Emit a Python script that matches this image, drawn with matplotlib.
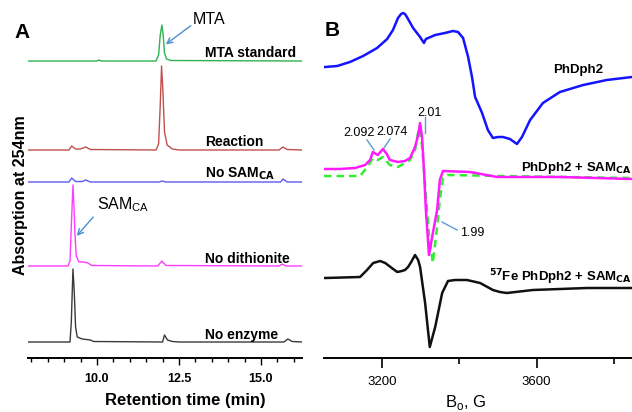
import matplotlib
matplotlib.use("Agg")
import matplotlib.pyplot as plt
from matplotlib.ticker import FixedLocator, MultipleLocator

plt.rcParams['font.family'] = ['Liberation Sans', 'DejaVu Sans']

W, H = 632, 412

# ---------------- Panel A data: HPLC traces (retention time, min ; signal, a.u.) ----------------
mta_std_t = [7.9, 9.1, 10.0, 10.06, 10.12, 11.8, 11.88, 11.93, 11.98, 12.02, 12.06, 12.12, 12.25, 16.25]
mta_std_y = [0, 0, 0, 1, 0, 0, 6, 26, 36, 26, 8, 2, 0.5, 0]

reaction_t = [7.9, 9.15, 9.23, 9.35, 9.5, 9.66, 9.8, 11.8, 11.88, 11.93, 11.97, 12.01, 12.06, 12.14, 12.3, 12.5,
              15.55, 15.67, 15.8, 16.25]
reaction_y = [0, 0, 4, 1, 1, 3, 0.5, 0, 6, 45, 84, 60, 18, 5, 1, 0, 0, 3, 0.5, 0]

nosam_t = [7.9, 9.15, 9.23, 9.35, 9.55, 9.66, 9.8, 11.9, 11.98, 12.1, 15.6, 15.67, 15.8, 16.25]
nosam_y = [0, 0, 4, 0.5, 0.5, 2, 0, 0, 1, 0, 0, 3, 0, 0]

nodith_t = [7.9, 9.12, 9.18, 9.22, 9.27, 9.3, 9.33, 9.37, 9.45, 9.6, 9.72, 9.85, 11.85, 11.98, 12.1,
            15.55, 15.65, 15.75, 16.25]
nodith_y = [0, 0, 5, 40, 81, 60, 33, 10, 4, 4, 3, 0.5, 0, 5, 0.5, 0, 2, 0, 0]

noenz_t = [7.9, 9.18, 9.22, 9.27, 9.31, 9.35, 9.4, 9.55, 9.8, 9.9, 12.0, 12.06, 12.15, 12.3, 12.5,
           15.7, 15.82, 15.95, 16.25]
noenz_y = [0, 0, 20, 73, 50, 15, 5, 3, 2, 0.5, 0, 7, 2, 0.5, 0, 0, 3, 0.5, 0]

hplc_names = ["MTA standard", "Reaction", "No SAM$_{\\mathbf{CA}}$", "No dithionite", "No enzyme"]
hplc_offsets = [297, 208, 176, 92, 16]
hplc_colors = ["#2db34f", "#c0504d", "#5a5af0", "#ff3cff", "#3a3a3a"]
hplc_t = [mta_std_t, reaction_t, nosam_t, nodith_t, noenz_t]
hplc_y = [mta_std_y, reaction_y, nosam_y, nodith_y, noenz_y]
hplc_label_y = [53, 142, 174, 259, 335]   # pixel rows of the bold labels

# ---------------- Panel B data: EPR spectra (field, G ; signal, a.u.) ----------------
phdph2_B = [3054, 3085, 3118, 3152, 3188, 3214, 3229, 3242, 3250, 3255, 3260, 3265, 3281, 3299, 3309, 3314,
            3338, 3363, 3384, 3397, 3410, 3423, 3433, 3441, 3459, 3474, 3487, 3500, 3513, 3531, 3549, 3562,
            3583, 3616, 3660, 3720, 3781, 3846]
phdph2_y = [0, 1, 5, 11, 19, 28, 37, 49, 53, 54, 53, 50, 39, 30, 24, 28, 32, 34, 36, 35, 29, 10, -10, -30,
            -46, -63, -71, -70, -70, -72, -77, -70, -53, -36, -25, -18, -13, -10]

sam_B = [3051, 3092, 3131, 3157, 3170, 3177, 3190, 3203, 3213, 3221, 3242, 3260, 3273, 3286, 3294, 3299,
         3304, 3309, 3314, 3322, 3332, 3343, 3350, 3358, 3428, 3498, 3660, 3846]
sam_y = [0, 0, 1, 4, 9, 17, 14, 20, 15, 9, 7, 8, 11, 22, 34, 46, 32, -1, -41, -86, -64, -41, -11, -2, -3,
         -8, -8, -10]

sim_B = [3051, 3144, 3165, 3177, 3190, 3203, 3221, 3242, 3273, 3286, 3296, 3304, 3312, 3322, 3332, 3343,
         3350, 3358, 3369, 3505, 3846]
sim_y = [0, 0, 10, 18, 16, 19, 11, 9, 16, 26, 48, 31, -9, -59, -87, -51, -24, -2, 1, 0, -2]

fe57_B = [3054, 3144, 3162, 3178, 3196, 3209, 3226, 3240, 3252, 3260, 3268, 3276, 3286, 3294, 3299, 3312,
          3324, 3338, 3356, 3371, 3389, 3420, 3454, 3487, 3505, 3523, 3590, 3730, 3846]
fe57_y = [0, 1, 8, 15, 17, 15, 10, 6, 7, 8, 11, 16, 23, 18, 11, -25, -69, -49, -15, -3, -2, -2, -5, -12,
          -14, -15, -12, -10, -10]

epr_offsets = {"phdph2": 291, "sam": 189, "sim": 182, "fe57": 80}

hplc_ticks_major = [10.0, 12.5, 15.0]
epr_ticks_major = [3200, 3600]
epr_ticks_minor = [3400, 3800]

fig = plt.figure(figsize=(W / 100, H / 100), dpi=100)


def fx(px):
    return px / W


def fy(py):
    return 1 - py / H


# ---------------- Panel A ----------------
axA = fig.add_axes([fx(28), fy(358), 274 / W, 350 / H])
axA.set_xlim(7.9, 16.25)
axA.set_ylim(0, 350)
for t, y, off, c in zip(hplc_t, hplc_y, hplc_offsets, hplc_colors):
    axA.plot(t, [v + off for v in y], color=c, lw=1.0)
for s in ["top", "right", "left"]:
    axA.spines[s].set_visible(False)
axA.spines["bottom"].set_linewidth(1.4)
axA.set_yticks([])
axA.xaxis.set_major_locator(FixedLocator(hplc_ticks_major))
axA.xaxis.set_minor_locator(MultipleLocator(0.5))
axA.tick_params(axis="x", which="major", length=5, width=1, pad=6)
axA.tick_params(axis="x", which="minor", length=3, width=1)
axA.set_xticklabels([f"{v:.1f}" for v in hplc_ticks_major], fontsize=9, fontweight="bold")

for name, py in zip(hplc_names, hplc_label_y):
    fig.text(fx(205), fy(py), name, fontsize=10, fontweight="bold", va="center", ha="left")

fig.text(fx(21), fy(195), "Absorption at 254nm", rotation=90, fontsize=11.5, fontweight="bold",
         va="center", ha="center")
fig.text(fx(185), fy(400), "Retention time (min)", fontsize=12, fontweight="bold", va="center", ha="center")
fig.text(fx(14), fy(32), "A", fontsize=15, fontweight="bold", va="center", ha="left")

arrow_c = "#4a8fd0"
axA.annotate("", xy=(12.03, 358 - 46), xytext=(fx(193), fy(24)), textcoords="figure fraction",
             arrowprops=dict(arrowstyle="->", color=arrow_c, lw=1.0))
fig.text(fx(193), fy(19), "MTA", fontsize=11.5, va="center", ha="left")
axA.annotate("", xy=(9.33, 358 - 238), xytext=(fx(95), fy(215)), textcoords="figure fraction",
             arrowprops=dict(arrowstyle="->", color=arrow_c, lw=1.0))
fig.text(fx(97), fy(205), "SAM$_{\\mathregular{CA}}$", fontsize=11.5, va="center", ha="left")

# ---------------- Panel B ----------------
axB = fig.add_axes([fx(324), fy(358), 308 / W, 350 / H])
axB.set_xlim(3051, 3846)
axB.set_ylim(0, 350)
axB.plot(phdph2_B, [v + epr_offsets["phdph2"] for v in phdph2_y], color="#1414ff", lw=1.8)
axB.plot(sim_B, [v + epr_offsets["sim"] for v in sim_y], color="#33ee33", lw=1.8, ls=(0, (3, 2)))
axB.plot(sam_B, [v + epr_offsets["sam"] for v in sam_y], color="#ff1aff", lw=1.8)
axB.plot(fe57_B, [v + epr_offsets["fe57"] for v in fe57_y], color="#111111", lw=1.8)
for s in ["top", "right", "left"]:
    axB.spines[s].set_visible(False)
axB.spines["bottom"].set_linewidth(1.4)
axB.set_yticks([])
axB.xaxis.set_major_locator(FixedLocator(epr_ticks_major))
axB.xaxis.set_minor_locator(FixedLocator(epr_ticks_minor))
axB.tick_params(axis="x", which="major", length=7, width=1.2, pad=6, labelsize=9.5)
axB.tick_params(axis="x", which="minor", length=4, width=1.2)
axB.set_xticklabels([str(v) for v in epr_ticks_major])

fig.text(fx(325), fy(30), "B", fontsize=15, fontweight="bold", va="center", ha="left")
fig.text(fx(603), fy(70), "PhDph2", fontsize=9.5, fontweight="bold", va="center", ha="right")
fig.text(fx(632), fy(168), "PhDph2 + SAM$_{\\mathbf{CA}}$", fontsize=9.5, fontweight="bold",
         va="center", ha="right")
fig.text(fx(632), fy(277), "$^{\\mathbf{57}}$Fe PhDph2 + SAM$_{\\mathbf{CA}}$", fontsize=9.5,
         fontweight="bold", va="center", ha="right")
fig.text(fx(466), fy(411.5), "B$_{\\mathregular{o}}$, G", fontsize=12, va="bottom", ha="center")

line_c = "#5b9bd5"
gval_fs = 9
fig.text(fx(343), fy(133), "2.092", fontsize=gval_fs, va="center", ha="left")
fig.text(fx(376), fy(132), "2.074", fontsize=gval_fs, va="center", ha="left")
fig.text(fx(417), fy(113), "2.01", fontsize=gval_fs, va="center", ha="left")
fig.text(fx(460), fy(233), "1.99", fontsize=gval_fs, va="center", ha="left")
for (x0, y0, x1, y1) in [(367, 140, 374, 150), (390, 139, 384, 148), (425, 117, 425, 133), (442, 222, 457, 230)]:
    fig.add_artist(plt.Line2D([fx(x0), fx(x1)], [fy(y0), fy(y1)], color=line_c, lw=1.0,
                              transform=fig.transFigure))

fig.savefig("out.png", dpi=100)
